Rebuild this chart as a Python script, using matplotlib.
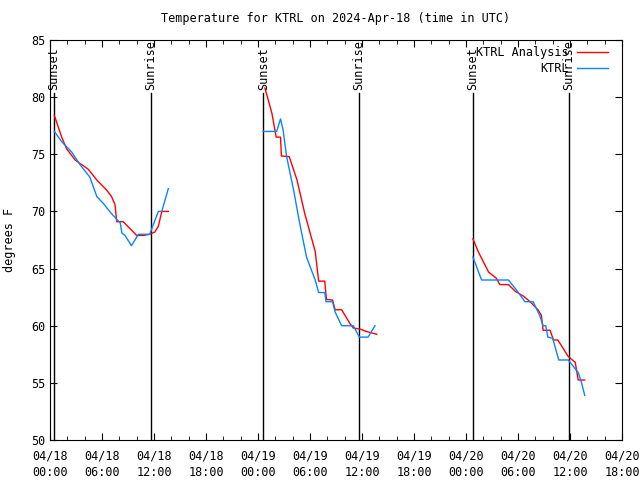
import numpy as np
import pandas as pd
import matplotlib
matplotlib.use("Agg")
import matplotlib.pyplot as plt
import matplotlib.dates as mdates

# -----------------------------
# data (hours since 2024-04-18 00:00 UTC, degrees F)
# -----------------------------
t0 = pd.Timestamp("2024-04-18 00:00")

ana_h = [0.5, 1.35, 1.9, 2.9, 3.65, 4.4, 5.4, 6.5, 7.1, 7.5, 7.7, 8.45, 10.0, 10.8, 11.5, 12.1, 12.5, 12.9, 13.65,
         np.nan,
         24.8, 25.6, 26.1, 26.6, 26.7, 27.6, 28.5, 29.4, 30.6, 31.0, 31.7, 31.9, 32.6, 32.9, 33.65, 34.6, 35.0,
         35.8, 36.5, 37.7,
         np.nan,
         48.8, 49.4, 50.6, 51.5, 51.9, 52.9, 53.7, 54.6, 55.4, 56.3, 56.7, 56.9, 57.7, 58.1, 58.6, 59.8, 60.6,
         60.95, 61.7]
ana_T = [78.4, 76.5, 75.5, 74.5, 74.1, 73.7, 72.75, 71.9, 71.3, 70.6, 69.1, 69.1, 67.9, 67.9, 68.0, 68.2, 68.7, 70.0, 70.0,
         np.nan,
         80.8, 78.6, 76.5, 76.5, 74.85, 74.8, 72.75, 69.8, 66.5, 63.9, 63.9, 62.3, 62.25, 61.4, 61.4, 60.2, 59.8,
         59.7, 59.5, 59.25,
         np.nan,
         67.6, 66.5, 64.7, 64.15, 63.6, 63.6, 63.0, 62.6, 62.1, 61.4, 60.9, 59.6, 59.6, 58.75, 58.75, 57.3, 56.8,
         55.25, 55.25]

obs_h = [0.5, 1.35, 2.5, 3.46, 4.6, 5.4, 6.15, 7.1, 8.1, 8.3, 8.65, 9.4, 10.2, 11.5, 12.5, 12.9, 13.65,
         np.nan,
         24.6, 26.15, 26.6, 26.9, 27.3, 28.1, 28.8, 29.6, 30.6, 31.0, 31.7, 31.85, 32.6, 32.9, 33.65, 35.0,
         35.7, 36.7, 37.5,
         np.nan,
         48.8, 49.8, 52.9, 53.85, 54.8, 55.75, 56.5, 56.9, 57.2, 57.45, 58.0, 58.7, 59.8, 60.95, 61.3, 61.7]
obs_T = [77.0, 76.1, 75.2, 74.1, 73.0, 71.3, 70.7, 69.8, 69.0, 68.1, 67.9, 67.0, 68.0, 68.0, 70.0, 70.0, 72.0,
         np.nan,
         77.0, 77.0, 78.1, 77.1, 74.8, 71.9, 69.0, 66.0, 64.0, 62.9, 62.9, 62.1, 62.1, 61.2, 60.0, 60.0,
         59.0, 59.0, 60.0,
         np.nan,
         66.0, 64.0, 64.0, 63.1, 62.1, 62.1, 60.9, 60.0, 60.0, 59.0, 58.9, 57.0, 57.0, 55.9, 55.1, 53.9]

sun_h = [0.46, 11.65, 24.63, 35.65, 48.8, 59.9]
sun_lbl = ["Sunset", "Sunrise", "Sunset", "Sunrise", "Sunset", "Sunrise"]


def to_time(hours):
    return t0 + pd.to_timedelta(np.array(hours, dtype=float), unit="h")


plt.rcParams["font.family"] = ["DejaVu Sans Mono"]
plt.rcParams["font.size"] = 8

fig = plt.figure(figsize=(6.4, 4.8), dpi=100)
ax = fig.add_axes([50 / 640, 40 / 480, 572 / 640, 400 / 480])

# sunrise / sunset markers
for h, lbl in zip(sun_h, sun_lbl):
    tt = to_time([h])[0]
    ax.plot([tt, tt], [50, 80.4], color="black", lw=1.0, zorder=1)
    ax.text(tt, 80.6, lbl, rotation=90, ha="center", va="bottom", fontsize=8.5)

ax.plot(to_time(ana_h), ana_T, color="#ff0000", lw=1.0, label="KTRL Analysis", zorder=2)
ax.plot(to_time(obs_h), obs_T, color="#0a84ff", lw=1.0, label="KTRL", zorder=3)

ax.set_xlim(t0, t0 + pd.Timedelta(hours=66))
ax.set_ylim(50, 85)
ax.set_yticks(np.arange(50, 86, 5))
ax.xaxis.set_major_locator(mdates.HourLocator(byhour=[0, 6, 12, 18]))
ax.xaxis.set_minor_locator(mdates.HourLocator(byhour=range(0, 24, 2)))
ax.xaxis.set_major_formatter(mdates.DateFormatter("%m/%d\n%H:%M"))
ax.tick_params(which="both", direction="in", top=True, right=True, labelsize=8.5)
ax.tick_params(which="major", length=5)
ax.tick_params(which="minor", length=3)
ax.tick_params(axis="x", pad=7)
for lab in ax.get_xticklabels():
    lab.set_linespacing(1.35)

ax.set_ylabel("degrees F", fontsize=8.5, labelpad=11)
ax.set_title("Temperature for KTRL on 2024-Apr-18 (time in UTC)", fontsize=8.5, pad=13)

leg = ax.legend(loc="upper right", frameon=False, fontsize=8.5, markerfirst=False,
                handlelength=2.6, handletextpad=0.7, borderaxespad=0.1, labelspacing=0.25,
                bbox_to_anchor=(0.985, 1.0))
for txt in leg.get_texts():
    txt.set_ha("right")

fig.savefig("out.png", dpi=100)
